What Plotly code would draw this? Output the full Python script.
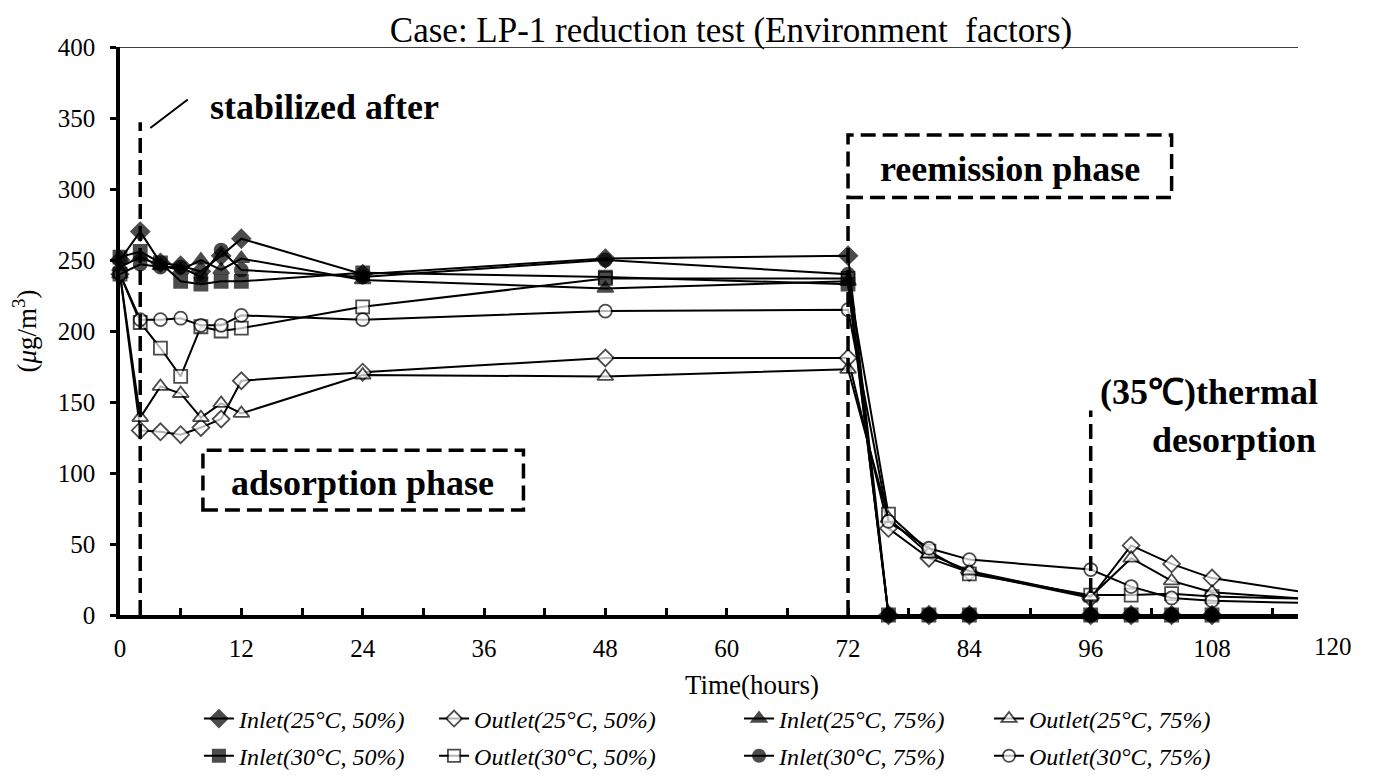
import plotly.graph_objects as go

# ---------------- data ----------------
hours = [0, 2, 4, 6, 8, 10, 12, 24, 48, 72, 76, 80, 84, 96, 100, 104, 108, 120]

inlet_25_50 = [250, 270, 248, 246, 242, 253, 265, 240, 251, 253, 0, 0, 0, 0, 0, 0, 0, 0]
outlet_25_50 = [240, 130, 129, 127, 132, 138, 165, 171, 181, 181, 61, 40, 30, 12, 49, 36, 26, 13]
inlet_25_75 = [245, 252, 246, 243, 250, 243, 251, 236, 230, 235, 0, 0, 0, 0, 0, 0, 0, 0]
outlet_25_75 = [240, 139, 161, 156, 139, 149, 142, 169, 168, 173, 68, 43, 31, 13, 40, 24, 16, 10]
inlet_30_50 = [252, 256, 248, 235, 233, 235, 235, 241, 238, 233, 0, 0, 0, 0, 0, 0, 0, 0]
outlet_30_50 = [240, 206, 188, 168, 203, 200, 202, 217, 237, 237, 71, 45, 29, 14, 14, 15, 13, 11]
inlet_30_75 = [240, 247, 245, 245, 238, 257, 243, 238, 250, 240, 0, 0, 0, 0, 0, 0, 0, 0]
outlet_30_75 = [240, 208, 208, 209, 204, 204, 211, 208, 214, 215, 66, 47, 39, 32, 20, 12, 10, 8]

# drawing order: outlets first (beneath), inlets on top.
# each legend box is one column of the two-row legend
series_names = [
    "Outlet(25°C, 50%)", "Outlet(30°C, 50%)",
    "Outlet(25°C, 75%)", "Outlet(30°C, 75%)",
    "Inlet(25°C, 50%)", "Inlet(30°C, 50%)",
    "Inlet(25°C, 75%)", "Inlet(30°C, 75%)",
]
series_values = [outlet_25_50, outlet_30_50, outlet_25_75, outlet_30_75,
                 inlet_25_50, inlet_30_50, inlet_25_75, inlet_30_75]
symbols = ["diamond", "square", "triangle-up", "circle",
           "diamond", "square", "triangle-up", "circle"]
filled = [False, False, False, False, True, True, True, True]
marker_sizes = [13, 13, 14, 13, 14, 13, 14, 13]
legend_ids = ["legend2", "legend2", "legend4", "legend4",
              "legend", "legend", "legend3", "legend3"]

x_tick_vals = [0, 12, 24, 36, 48, 60, 72, 84, 96, 108]
x_minor_vals = [6, 18, 30, 42, 54, 66, 78, 90, 102, 114]
y_tick_vals = [0, 50, 100, 150, 200, 250, 300, 350, 400]

SERIF = "Liberation Serif, Times New Roman, serif"

fig = go.Figure()
for i, (name, vals) in enumerate(zip(series_names, series_values)):
    sizes = [marker_sizes[i]] * (len(hours) - 1) + [0]
    fig.add_trace(go.Scatter(
        x=hours, y=vals, name=name, mode="lines+markers",
        line=dict(color="black", width=2),
        marker=dict(symbol=symbols[i], size=sizes,
                    color="black" if filled[i] else "white",
                    line=dict(color="black", width=1.8)),
        cliponaxis=False,
        legend=legend_ids[i], legendgroup=name,
    ))

dash = "15px,7px"
DW = 3.5
shapes = [
    # top frame line
    dict(type="line", xref="paper", yref="y", x0=0, x1=1, y0=400, y1=400,
         line=dict(color="black", width=1.5)),
    # stabilization marker line
    dict(type="line", xref="x", yref="y", x0=2, x1=2, y0=0, y1=347,
         line=dict(color="black", width=DW, dash=dash)),
    dict(type="line", xref="x", yref="y", x0=3, x1=6.7, y0=343, y1=363,
         line=dict(color="black", width=2)),
    # reemission phase
    dict(type="line", xref="x", yref="y", x0=72, x1=72, y0=0, y1=294,
         line=dict(color="black", width=DW, dash=dash)),
    dict(type="rect", xref="x", yref="y", x0=72, x1=104, y0=294, y1=338,
         line=dict(color="black", width=DW, dash=dash)),
    # thermal desorption
    dict(type="line", xref="x", yref="y", x0=96, x1=96, y0=0, y1=144,
         line=dict(color="black", width=DW, dash=dash)),
    # adsorption phase box
    dict(type="rect", xref="x", yref="y", x0=8.2, x1=39.9, y0=74, y1=116,
         line=dict(color="black", width=DW, dash=dash)),
]

bold = dict(family=SERIF, size=36, color="black")
annotations = [
    dict(text="<b>stabilized after</b>", x=8.7, y=358, xref="x", yref="y",
         xanchor="left", yanchor="middle", showarrow=False, font=bold),
    dict(text="<b>reemission phase</b>", x=88, y=314, xref="x", yref="y",
         xanchor="center", yanchor="middle", showarrow=False, font=bold),
    dict(text="<b>adsorption phase</b>", x=24, y=93, xref="x", yref="y",
         xanchor="center", yanchor="middle", showarrow=False, font=bold),
    dict(text="<b>(35℃)thermal</b>", x=1.0187, y=157, xref="paper", yref="y",
         xanchor="right", yanchor="middle", showarrow=False, font=bold),
    dict(text="<b>desorption</b>", x=1.017, y=123, xref="paper", yref="y",
         xanchor="right", yanchor="middle", showarrow=False, font=bold),
    # last x tick label beyond the drawn axis end
    dict(text="120", x=1.0297, y=-0.0563, xref="paper", yref="paper",
         xanchor="center", yanchor="middle", showarrow=False,
         font=dict(family=SERIF, size=25, color="black")),
    dict(text="Time(hours)", x=0.5365, y=-0.123, xref="paper", yref="paper",
         xanchor="center", yanchor="middle", showarrow=False,
         font=dict(family=SERIF, size=27, color="black")),
    dict(text="(<i>μ</i>g/m<sup>3</sup>)", x=-0.081, y=0.5, xref="paper", yref="paper",
         xanchor="center", yanchor="middle", textangle=-90, showarrow=False,
         font=dict(family=SERIF, size=27, color="black")),
]

legend_common = dict(
    orientation="v", xanchor="left", yanchor="middle", y=-0.2157,
    font=dict(family=SERIF, size=24, color="black", style="italic"),
    bgcolor="rgba(0,0,0,0)", tracegroupgap=3, itemclick=False,
)

fig.update_layout(
    width=1373, height=779,
    margin=dict(l=112, r=83, t=39, b=172, autoexpand=False),
    paper_bgcolor="white", plot_bgcolor="white",
    font=dict(family=SERIF, color="black"),
    title=dict(text="Case: LP-1 reduction test (Environment  factors)",
               x=0.5187, xref="paper", y=0.9718, yref="container",
               xanchor="center", yanchor="middle",
               font=dict(family=SERIF, size=35, color="black")),
    xaxis=dict(range=[0, 116.5], tickmode="array", tickvals=x_tick_vals,
               ticks="inside", ticklen=7, tickwidth=2.5, tickcolor="black",
               minor=dict(tickvals=x_minor_vals, ticks="inside", ticklen=7,
                          tickwidth=2.5, tickcolor="black"),
               showline=True, linecolor="black", linewidth=3.5,
               showgrid=False, zeroline=False, ticklabelstandoff=8,
               automargin=False,
               tickfont=dict(family=SERIF, size=25, color="black")),
    yaxis=dict(range=[0, 400], tickmode="array", tickvals=y_tick_vals,
               ticks="outside", ticklen=6, tickwidth=2.5, tickcolor="black",
               showline=True, linecolor="black", linewidth=3.5,
               showgrid=False, zeroline=False, ticklabelstandoff=10,
               automargin=False,
               tickfont=dict(family=SERIF, size=25, color="black")),
    legend=dict(x=0.067, **legend_common),
    legend2=dict(x=0.2666, **legend_common),
    legend3=dict(x=0.5255, **legend_common),
    legend4=dict(x=0.7377, **legend_common),
    shapes=shapes,
    annotations=annotations,
)

fig.write_html("out.html")
